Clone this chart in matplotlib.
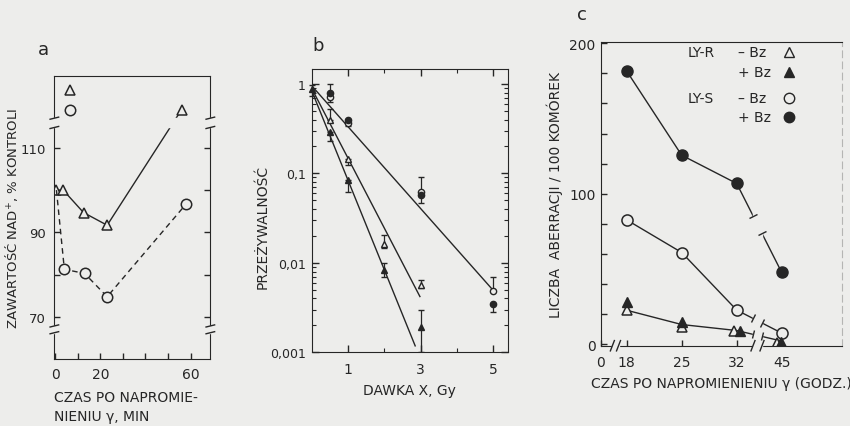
import numpy as np
import matplotlib
matplotlib.use('Agg')
import matplotlib.pyplot as plt
import matplotlib.transforms as mtransforms
from matplotlib.markers import MarkerStyle
from matplotlib.ticker import FixedLocator, NullFormatter, LogLocator

BG = '#ededeb'
INK = '#262626'
plt.rcParams['font.family'] = ['DejaVu Sans']
plt.rcParams['font.size'] = 10
for k in ('text.color', 'axes.labelcolor', 'xtick.color', 'ytick.color', 'axes.edgecolor'):
    plt.rcParams[k] = INK

# ---- panel a : NAD+ content (% of control) vs time (min)
a_tri_t = [0.5, 3.5, 12.5, 23, 56]
a_tri_v = [100, 100, 94.7, 91.7, 119.0]
a_circ_t = [0.5, 4, 13, 23, 58]
a_circ_v = [100, 81.3, 80.3, 74.8, 96.7]
a_xticks = [0, 20, 60]
a_xminor = [10, 30, 40, 50]
a_yticks = [70, 90, 110]
a_yminor = [80, 100]
a_breaks = [(114.8, 117.0), (66.3, 67.9)]

# ---- panel b : survival vs dose (Gy)
b_circ_d = [0.5, 1, 3, 5]
b_oc_v = [0.72, 0.37, 0.062, 0.0048]
b_oc_lo = [0.63, 0.34, 0.062, 0.0048]
b_oc_hi = [0.72, 0.37, 0.09, 0.007]
b_fc_v = [0.80, 0.40, 0.057, 0.0035]
b_fc_lo = [0.80, 0.40, 0.0465, 0.0028]
b_fc_hi = [1.0, 0.40, 0.057, 0.0035]
b_tri_d = [0.5, 1, 2, 3]
b_ot_v = [0.40, 0.146, 0.0162, 0.0056]
b_ot_lo = [0.40, 0.125, 0.0145, 0.0052]
b_ot_hi = [0.52, 0.146, 0.0205, 0.0065]
b_ft_v = [0.29, 0.084, 0.0083, 0.0019]
b_ft_lo = [0.23, 0.062, 0.007, 0.001]
b_ft_hi = [0.29, 0.084, 0.010, 0.003]
b_fit_circ = ([0, 5], [0.96, 0.0049])
b_fit_ot = ([0, 2.98], [0.90, 0.0042])
b_fit_ft = ([0, 2.85], [0.85, 0.00118])
b_yticks = [0.001, 0.01, 0.1, 1]
b_ylabels = ['0,001', '0,01', '0,1', '1']

# ---- panel c : aberrations / 100 cells vs time (h)
c_circ_t = [18, 25, 32, 45]
c_fc_v = [181.6, 125.6, 106.8, 47.6]
c_oc_v = [82.6, 60.9, 22.6, 7.3]
c_ft_t = [18, 25, 33, 44.7]
c_ft_v = [27.7, 14.8, 8.9, 1.1]
c_ot_t = [18, 25, 31.6, 43.6]
c_ot_v = [22.8, 11.1, 8.4, 1.0]
c_tri_line = ([18, 25, 32, 45], [22.5, 13.0, 9.0, 2.0])
c_xticks = [0, 18, 25, 32, 45]
c_knots_t = [0, 18, 32, 45, 60]
c_knots_d = [0, 25.7, 135.7, 180.7, 298.6]
c_gaps = [(8.0, 12.3), (36.7, 39.3)]

fig = plt.figure(figsize=(8.5, 4.27), dpi=100, facecolor=BG)

# ================= a
ax = fig.add_axes([0.0635, 0.157, 0.1835, 0.663], facecolor=BG)
ax.plot(a_tri_t, a_tri_v, '-', color=INK, lw=1.0, marker='^', ms=6.5,
        mfc=BG, mec=INK, mew=1.1, zorder=2)
ax.plot(a_circ_t, a_circ_v, '--', color=INK, lw=1.0, dashes=(4, 3), marker='o', ms=7.5,
        mfc=BG, mec=INK, mew=1.1, markevery=[1, 2, 3, 4], zorder=2)
ax.plot([0.1], [0.95], '^', transform=ax.transAxes, ms=6.5, mfc=BG, mec=INK, mew=1.1)
ax.plot([0.1], [0.88], 'o', transform=ax.transAxes, ms=7.5, mfc=BG, mec=INK, mew=1.1)
ax.set_xlim(-0.6, 68.6)
ax.set_ylim(60.1, 127.0)
ax.set_xticks(a_xticks)
ax.xaxis.set_minor_locator(FixedLocator(a_xminor))
ax.set_yticks(a_yticks)
ax.yaxis.set_minor_locator(FixedLocator(a_yminor))
ax.tick_params(which='both', direction='in', length=4, width=1, right=True, top=False)
ax.tick_params(axis='y', pad=6, labelsize=9.5)
ax.tick_params(axis='x', pad=6)
tr = mtransforms.blended_transform_factory(ax.transAxes, ax.transData)
for y0, y1 in a_breaks:
    ax.axhspan(y0, y1, xmin=-0.05, xmax=1.05, color=BG, zorder=3, clip_on=False)
    for xs in (0, 1):
        for yy in (y0, y1):
            ax.plot([xs - 0.025, xs + 0.03], [yy - 0.25, yy + 0.25], transform=tr,
                    color=INK, lw=1.0, clip_on=False, zorder=4)
ax.set_ylabel('ZAWARTOŚĆ NAD$^{+}$, % KONTROLI', fontsize=9.5)
ax.yaxis.set_label_coords(-0.22, 0.5)
ax.set_xlabel('CZAS PO NAPROMIE-\nNIENIU γ, MIN', loc='left', labelpad=6, linespacing=1.5)
fig.text(43 / 850, 1 - 50 / 427, 'a', fontsize=13, ha='center', va='center')

# ================= b
ax = fig.add_axes([0.3665, 0.1726, 0.2315, 0.6635], facecolor=BG)
ax.set_yscale('log')
for fx, fy in (b_fit_circ, b_fit_ot, b_fit_ft):
    ax.plot(fx, fy, '-', color=INK, lw=1.0, zorder=2)
series = [
    (b_circ_d, b_oc_v, b_oc_lo, b_oc_hi, 'o', BG),
    (b_circ_d, b_fc_v, b_fc_lo, b_fc_hi, 'o', INK),
    (b_tri_d, b_ot_v, b_ot_lo, b_ot_hi, '^', BG),
    (b_tri_d, b_ft_v, b_ft_lo, b_ft_hi, '^', INK),
]
for d, v, lo, hi, m, fc in series:
    v = np.array(v)
    err = [v - np.array(lo), np.array(hi) - v]
    ax.errorbar(d, v, yerr=err, fmt=m, ms=4.5, mfc=fc, mec=INK, mew=1.0,
                ecolor=INK, elinewidth=0.9, capsize=2.5, capthick=0.9, zorder=3)
ax.errorbar([0.0], [0.87], yerr=[[0.13], [0.1]], fmt='^', ms=4.5, mfc=INK, mec=INK,
            ecolor=INK, elinewidth=0.9, capsize=2.5, zorder=3, clip_on=False)
ax.set_xlim(0, 5.41)
ax.set_ylim(0.001, 1.47)
ax.set_xticks([1, 3, 5])
ax.xaxis.set_minor_locator(FixedLocator([2, 4]))
ax.yaxis.set_major_locator(FixedLocator(b_yticks))
ax.set_yticklabels(b_ylabels)
ax.yaxis.set_minor_locator(LogLocator(base=10, subs=np.arange(2, 10)))
ax.yaxis.set_minor_formatter(NullFormatter())
ax.tick_params(which='major', direction='in', length=5, width=1, right=True, top=True)
ax.tick_params(which='minor', direction='in', length=3, width=0.8, right=True, top=True)
ax.tick_params(axis='y', pad=4, labelsize=9)
ax.tick_params(axis='x', pad=7)
ax.set_ylabel('PRZEŻYWALNOŚĆ')
ax.yaxis.set_label_coords(-0.215, 0.445)
ax.set_xlabel('DAWKA X, Gy', labelpad=5)
fig.text(318 / 850, 1 - 46 / 427, 'b', fontsize=13, ha='center', va='center')

# ================= c
def fwd(t):
    return np.interp(t, c_knots_t, c_knots_d)


def inv(d):
    return np.interp(d, c_knots_d, c_knots_t)


ax = fig.add_axes([0.707, 0.188, 0.283, 0.7106], facecolor=BG)
ax.set_xscale('function', functions=(fwd, inv))
ax.plot(c_circ_t, c_fc_v, '-', color=INK, lw=1.0, marker='o', ms=8, mfc=INK, mec=INK, zorder=2)
ax.plot(c_circ_t, c_oc_v, '-', color=INK, lw=1.0, marker='o', ms=8, mfc=BG, mec=INK, mew=1.1, zorder=2)
ax.plot(c_tri_line[0], c_tri_line[1], '-', color=INK, lw=1.0, zorder=2)
ax.plot(c_ft_t, c_ft_v, '^', ms=7, mfc=INK, mec=INK, zorder=2.2)
ax.plot(c_ot_t, c_ot_v, '^', ms=7, mfc=BG, mec=INK, mew=1.1, zorder=2.1)
ax.set_xlim(0, 52.6)
ax.set_ylim(-1.1, 200.7)
ax.set_xticks(c_xticks)
ax.set_yticks([0, 100, 200])
ax.yaxis.set_minor_locator(FixedLocator(np.arange(20, 200, 20)))
ax.tick_params(which='both', direction='in', length=4, width=1, right=False, top=False)
ax.tick_params(axis='y', pad=4)
ax.tick_params(axis='x', pad=7)
ax.spines['right'].set_color('#b5b5b3')
ax.spines['right'].set_linestyle((0, (6, 4)))
ax.spines['right'].set_linewidth(0.8)
trc = mtransforms.blended_transform_factory(ax.transData, ax.transAxes)
for (t0, t1), ytop in zip(c_gaps, (0.03, 0.85)):
    ax.axvspan(t0, t1, ymin=-0.03, ymax=ytop, color=BG, zorder=3, clip_on=False)
    for tt in (t0, t1):
        d0 = fwd(tt)
        ax.plot([inv(d0 - 2.0), inv(d0 + 2.0)], [-0.017, 0.017], transform=trc,
                color=INK, lw=1.0, clip_on=False, zorder=4)

# short end caps where the lines stop at the break
g0, g1 = c_gaps[1]
for lx, ly in ((c_circ_t, c_fc_v), (c_circ_t, c_oc_v), c_tri_line):
    xa, xb = lx[-2], lx[-1]
    ya, yb = ly[-2], ly[-1]
    pa, pb = ax.transData.transform([(xa, ya), (xb, yb)])
    ang = np.degrees(np.arctan2(pb[1] - pa[1], pb[0] - pa[0])) + 90
    cap = MarkerStyle('_', transform=mtransforms.Affine2D().rotate_deg(ang))
    for tt in (g0, g1):
        yy = np.interp(tt, [xa, xb], [ya, yb])
        ax.plot([tt], [yy], marker=cap, ms=6, mew=1.0, color=INK, zorder=4)

# legend
rows = [('LY-R', '– Bz', '^', BG, 0.968), ('', '+ Bz', '^', INK, 0.901),
        ('LY-S', '– Bz', 'o', BG, 0.816), ('', '+ Bz', 'o', INK, 0.753)]
for grp, lab, m, fc, yy in rows:
    if grp:
        ax.text(0.36, yy, grp, transform=ax.transAxes, ha='left', va='center', fontsize=10)
    ax.text(0.57, yy, lab, transform=ax.transAxes, ha='left', va='center', fontsize=10)
    ax.plot([0.78], [yy], m, transform=ax.transAxes, ms=7 if m == '^' else 7.5,
            mfc=fc, mec=INK, mew=1.0, clip_on=False)
ax.set_ylabel('LICZBA  ABERRACJI / 100 KOMÓREK', labelpad=4)
ax.set_xlabel('CZAS PO NAPROMIENIENIU γ (GODZ.)', labelpad=5)
fig.text(581.7 / 850, 1 - 15 / 427, 'c', fontsize=13, ha='center', va='center')

fig.savefig('out.png', dpi=100, facecolor=BG)
